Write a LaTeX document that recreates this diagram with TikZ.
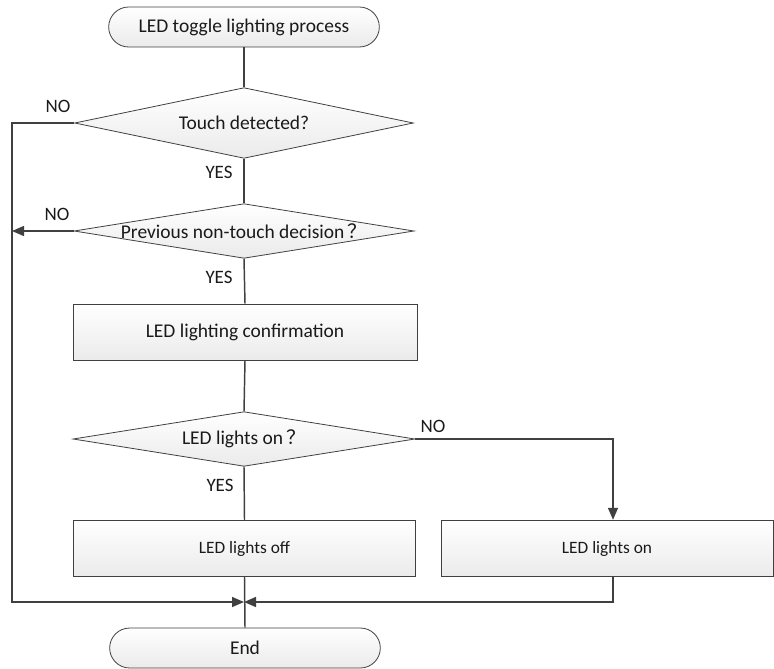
\documentclass[tikz,border=0pt]{standalone}
\usepackage{fontspec}
\setmainfont{Carlito}
\newfontfamily\cjk{Noto Sans CJK SC}
\usetikzlibrary{shapes.geometric,arrows.meta}
\definecolor{linegray}{HTML}{404040}
\definecolor{textgray}{HTML}{1A1A1A}
\tikzset{
  x=0.75pt, y=-0.75pt,
  base/.style={draw=linegray, line width=0.6pt, top color=white, bottom color=black!8,
    text=textgray, font=\fontsize{14.6}{16}\selectfont, inner sep=0pt, align=center},
  terminal/.style={base, rectangle, rounded corners=15pt, minimum width=203pt, minimum height=30pt},
  decision/.style={base, diamond, aspect=6.2},
  process/.style={base, rectangle, minimum height=42.5pt},
  smalltext/.style={font=\fontsize{13}{15}\selectfont},
  flow/.style={draw=linegray, line width=1.1pt},
  arrowflow/.style={flow, -{Triangle[length=9pt,width=7.5pt]}},
  lbl/.style={text=textgray, font=\fontsize{14.2}{16}\selectfont, inner sep=0pt}
}
\begin{document}
\begin{tikzpicture}
\useasboundingbox (0,0) rectangle (774,668);

% nodes of the flowchart
\node[terminal] (start) at (244,27) {LED toggle lighting process};
\node[decision, minimum width=254pt, minimum height=53pt] (touch) at (244,123) {Touch detected?};
\node[decision, minimum width=255pt, minimum height=41pt] (prev) at (244,231) {Previous non-touch decision\,{\cjk ？}};
\node[process, minimum width=258pt, minimum height=42pt] (confirm) at (245,332) {LED lighting confirmation};
\node[decision, minimum width=256.5pt, minimum height=41pt] (ison) at (244,439) {LED lights on\,{\cjk ？}};
\node[process, smalltext, minimum width=257pt] (off) at (244.5,548.5) {LED lights off};
\node[process, smalltext, minimum width=249pt] (on) at (607,548.5) {LED lights on};
\node[terminal] (end) at (245,648) {End};

% routing points
\coordinate (merge) at (244,602);
\coordinate (leftTop) at (12,123);
\coordinate (leftBot) at (12,602);
\coordinate (leftMid) at (12,231);
\coordinate (rightTop) at (613,439);
\coordinate (rightBot) at (613,602);

% main spine
\draw[flow] (start.south) -- (touch.north);
\draw[flow] (touch.south) -- (prev.north);
\draw[flow] (prev.south) -- (confirm.north);
\draw[flow] (confirm.south) -- (ison.north);
\draw[flow] (ison.south) -- (off.north);
\draw[flow] (off.south) -- (end.north);

% NO branches
\draw[arrowflow] (touch.west) -- (leftTop) -- (leftBot) -- (merge);
\draw[arrowflow] (prev.west) -- (leftMid);
\draw[arrowflow] (ison.east) -- (rightTop) -- (rightTop |- on.north);
\draw[arrowflow] (rightTop |- on.south) -- (rightBot) -- (merge);

% branch labels
\node[lbl] (no1) at (58,106) {NO};
\node[lbl] (yes1) at (219,172) {YES};
\node[lbl] (no2) at (57,214) {NO};
\node[lbl] (yes2) at (219,277) {YES};
\node[lbl] (no3) at (433,426) {NO};
\node[lbl] (yes3) at (220,485) {YES};
\end{tikzpicture}
\end{document}
